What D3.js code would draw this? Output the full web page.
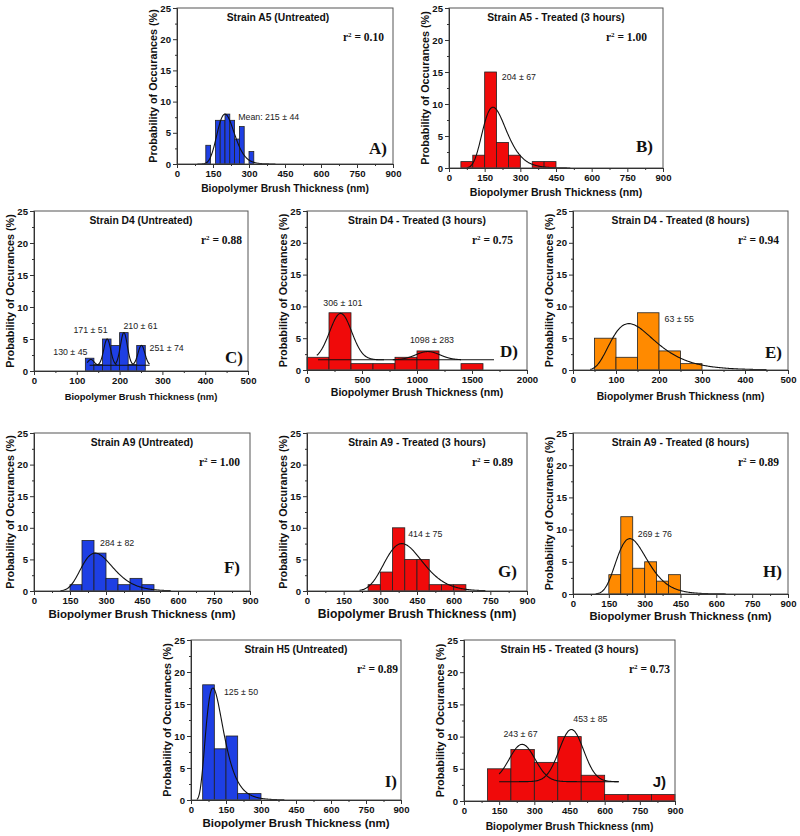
<!DOCTYPE html>
<html>
<head>
<meta charset="utf-8">
<script src="https://cdn.jsdelivr.net/npm/d3@7/dist/d3.min.js"></script>
<style>
  body { margin: 0; background: #fff; }
</style>
</head>
<body>
<div id="chart"></div>
<script>
// histogram counts (%), bin left edges and bin width per panel
const binsA = [120, 140, 160, 180, 200, 220, 240, 260, 280, 300], widthA = 20;
const countsA = [3, 0, 7, 7, 8, 7, 4, 6, 0, 2];
const binsB = [50, 100, 150, 200, 250, 300, 350, 400], widthB = 50;
const countsB = [1, 2, 15, 4, 2, 0, 1, 1];
const binsC = [120, 140, 160, 180, 200, 220, 240], widthC = 20;
const countsC = [2, 1, 5, 4, 6, 1, 4];
const binsD = [0, 200, 400, 600, 800, 1000, 1200, 1400], widthD = 200;
const countsD = [2, 9, 1, 1, 2, 3, 0, 1];
const binsE = [50, 100, 150, 200, 250], widthE = 50;
const countsE = [5, 2, 9, 3, 1];
const binsF = [150, 200, 250, 300, 350, 400, 450], widthF = 50;
const countsF = [1, 8, 6, 2, 1, 2, 1];
const binsG = [250, 300, 350, 400, 450, 500, 550, 600], widthG = 50;
const countsG = [1, 3, 10, 5, 5, 1, 1, 1];
const binsH = [150, 200, 250, 300, 350, 400], widthH = 50;
const countsH = [3, 12, 4, 5, 2, 3];
const binsI = [50, 100, 150, 200, 250], widthI = 50;
const countsI = [18, 8, 10, 1, 1];
const binsJ = [100, 200, 300, 400, 500, 600, 700, 800], widthJ = 100;
const countsJ = [5, 8, 6, 10, 4, 1, 1, 1];

// single log-normal fits: [mode, peak height, log width, from, to]
const fitA = [200, 8, 0.18, 85, 410];
const fitB = [185, 9.5, 0.27, 75, 510];
const fitE = [130, 7.3, 0.395, 40, 450];
const fitF = [255, 6, 0.26, 110, 570];
const fitG = [388, 7.5, 0.2, 215, 730];
const fitH = [238, 8.6, 0.27, 95, 640];
const fitI = [94, 17.5, 0.4, 25, 400];

// multi-peak gaussian fits: baseline, [center, height above baseline, sigma, from, to]
const baseC = 0.9, baseLineC = [130, 270];
const peaksC = [[133, 0.9, 7, 124, 152], [171, 4.1, 8, 150, 193], [210, 5.1, 8, 190, 232], [251, 3.1, 8, 232, 270]];
const baseD = 1.6, baseLineD = [100, 1700];
const peaksD = [[306, 7.3, 100, 90, 700], [1098, 1.3, 110, 780, 1400]];
const baseJ = 3.0, baseLineJ = null;
const peaksJ = [[248, 5.8, 55, 150, 660], [458, 8.1, 52, 150, 660]];

// tick labels
const yTicks = [0, 5, 10, 15, 20, 25];
const xTicks900 = [0, 150, 300, 450, 600, 750, 900];
const xTicks500 = [0, 100, 200, 300, 400, 500];
const xTicks2000 = [0, 500, 1000, 1500, 2000];

const blue = "#1e3fe4", red = "#f00a0a", orange = "#ff8a00";

const panels = [
  { id: "A)", title: "Strain A5 (Untreated)", r2: "0.10", color: blue, bins: binsA, bw: widthA, counts: countsA, fit: fitA,
    xTicks: xTicks900, box: [177, 8, 216, 156], r2In: 9, letIn: [6, 10], xtSize: 10.3, xtDy: 27.5, titleDx: -7,
    notes: [["Mean: 215 \u00b1 44", 255, 7.0]] },
  { id: "B)", title: "Strain A5 - Treated (3 hours)", r2: "1.00", color: red, bins: binsB, bw: widthB, counts: countsB, fit: fitB,
    xTicks: xTicks900, box: [449, 8, 214, 160], r2In: 16, letIn: [10, 16], xtSize: 10.6, xtDy: 28, titleDx: 0,
    notes: [["204 \u00b1 67", 222, 13.7]] },
  { id: "C)", title: "Strain D4 (Untreated)", r2: "0.88", color: blue, bins: binsC, bw: widthC, counts: countsC,
    base: baseC, baseLine: baseLineC, peaks: peaksC,
    xTicks: xTicks500, box: [34, 211, 214, 160], r2In: 6, letIn: [5, 8], xtSize: 9.4, xtDy: 29, titleDx: 0,
    notes: [["130 \u00b1 45", 45, 2.55], ["171 \u00b1 51", 92, 5.9], ["210 \u00b1 61", 209, 6.56], ["251 \u00b1 74", 270, 3.1]] },
  { id: "D)", title: "Strain D4 - Treated (3 hours)", r2: "0.75", color: red, bins: binsD, bw: widthD, counts: countsD,
    base: baseD, baseLine: baseLineD, peaks: peaksD,
    xTicks: xTicks2000, box: [307, 211, 220, 159], r2In: 14, letIn: [9, 13], xtSize: 10.6, xtDy: 25.5, titleDx: 0,
    notes: [["306 \u00b1 101", 148, 10.0], ["1098 \u00b1 283", 936, 4.3]] },
  { id: "E)", title: "Strain D4 - Treated (8 hours)", r2: "0.94", color: orange, bins: binsE, bw: widthE, counts: countsE, fit: fitE,
    xTicks: xTicks500, box: [573, 211, 215, 159], r2In: 9, letIn: [6, 12], xtSize: 10.3, xtDy: 30, titleDx: 0,
    notes: [["63 \u00b1 55", 213, 7.6]] },
  { id: "F)", title: "Strain A9 (Untreated)", r2: "1.00", color: blue, bins: binsF, bw: widthF, counts: countsF, fit: fitF,
    xTicks: xTicks900, box: [34, 433, 216, 158], r2In: 10, letIn: [10, 18], xtSize: 11.5, xtDy: 27, titleDx: 0,
    notes: [["284 \u00b1 82", 275, 7.1]] },
  { id: "G)", title: "Strain A9 - Treated (3 hours)", r2: "0.89", color: red, bins: binsG, bw: widthG, counts: countsG, fit: fitG,
    xTicks: xTicks900, box: [307, 433, 220, 158], r2In: 14, letIn: [10, 14], xtSize: 12.2, xtDy: 27, titleDx: 0,
    notes: [["414 \u00b1 75", 414, 8.6]] },
  { id: "H)", title: "Strain A9 - Treated (8 hours)", r2: "0.89", color: orange, bins: binsH, bw: widthH, counts: countsH, fit: fitH,
    xTicks: xTicks900, box: [573, 433, 215, 161], r2In: 9, letIn: [6, 17], xtSize: 11.2, xtDy: 25.5, titleDx: 0,
    notes: [["269 \u00b1 76", 271, 8.85]] },
  { id: "I)", title: "Strain H5 (Untreated)", r2: "0.89", color: blue, bins: binsI, bw: widthI, counts: countsI, fit: fitI,
    xTicks: xTicks900, box: [191, 640, 210, 160], r2In: 3, letIn: [4, 13], xtSize: 11.5, xtDy: 26.5, titleDx: 0,
    notes: [["125 \u00b1 50", 141, 16.4]] },
  { id: "J)", title: "Strain H5 - Treated (3 hours)", r2: "0.73", color: red, bins: binsJ, bw: widthJ, counts: countsJ,
    base: baseJ, baseLine: baseLineJ, peaks: peaksJ, sansLetter: true,
    xTicks: xTicks900, box: [464, 640, 211, 161], r2In: 5, letIn: [9, 14], xtSize: 10.3, xtDy: 29, titleDx: 0,
    notes: [["243 \u00b1 67", 168, 9.9], ["453 \u00b1 85", 466, 12.2]] }
];

const sans = "'Liberation Sans', Arial, sans-serif";
const serif = "'Liberation Serif', 'Times New Roman', serif";

const svg = d3.select("#chart").append("svg")
  .attr("width", 800).attr("height", 836)
  .style("background", "#fff")
  .style("font-family", sans);

panels.forEach(p => {
  const [x0, y0, w, h] = p.box;
  const xMax = p.xTicks[p.xTicks.length - 1];
  const x = d3.scaleLinear().domain([0, xMax]).range([0, w]);
  const y = d3.scaleLinear().domain([0, 25]).range([h, 0]);
  const g = svg.append("g").attr("transform", `translate(${x0},${y0})`);

  // bars
  g.selectAll(".bar")
    .data(p.bins.map((b, i) => ({ b, c: p.counts[i] })).filter(d => d.c > 0))
    .enter().append("rect")
    .attr("class", "bar")
    .attr("x", d => x(d.b))
    .attr("y", d => y(d.c))
    .attr("width", d => x(d.b + p.bw) - x(d.b))
    .attr("height", d => y(0) - y(d.c))
    .attr("fill", p.color)
    .attr("stroke", "#222")
    .attr("stroke-width", 0.8);

  const line = d3.line().x(d => x(d[0])).y(d => y(d[1])).curve(d3.curveBasis);

  // fitted curves
  if (p.fit) {
    const [m, a, s, from, to] = p.fit;
    const pts = d3.range(0, 201).map(i => {
      const xv = from + (to - from) * i / 200;
      const l = Math.log(xv / m);
      return [xv, a * Math.exp(-l * l / (2 * s * s))];
    });
    g.append("path").attr("d", line(pts)).attr("fill", "none").attr("stroke", "#111").attr("stroke-width", 1.1);
  }
  if (p.peaks) {
    if (p.baseLine) {
      g.append("line")
        .attr("x1", x(p.baseLine[0])).attr("x2", x(p.baseLine[1]))
        .attr("y1", y(p.base)).attr("y2", y(p.base))
        .attr("stroke", "#111").attr("stroke-width", 1.1);
    }
    p.peaks.forEach(([c, a, sg, from, to]) => {
      const pts = d3.range(0, 201).map(i => {
        const xv = from + (to - from) * i / 200;
        return [xv, p.base + a * Math.exp(-(xv - c) * (xv - c) / (2 * sg * sg))];
      });
      g.append("path").attr("d", line(pts)).attr("fill", "none").attr("stroke", "#111").attr("stroke-width", 1.1);
    });
  }

  // frame
  g.append("rect").attr("width", w).attr("height", h)
    .attr("fill", "none").attr("stroke", "#555").attr("stroke-width", 1);

  // axes
  const step = p.xTicks[1] - p.xTicks[0];
  const xMinor = d3.range(step / 2, xMax, step);
  const yMinor = d3.range(2.5, 25, 5);

  const xa = g.append("g").attr("transform", `translate(0,${h})`)
    .call(d3.axisBottom(x).tickValues(p.xTicks).tickFormat(d3.format("d")).tickSize(4).tickPadding(2).tickSizeOuter(0));
  g.append("g").attr("transform", `translate(0,${h})`)
    .call(d3.axisBottom(x).tickValues(xMinor).tickSize(2).tickFormat("").tickSizeOuter(0));
  const ya = g.append("g")
    .call(d3.axisLeft(y).tickValues(yTicks).tickSize(4).tickPadding(2).tickSizeOuter(0));
  g.append("g")
    .call(d3.axisLeft(y).tickValues(yMinor).tickSize(2).tickFormat("").tickSizeOuter(0));

  g.selectAll(".domain").attr("stroke", "#333");
  g.selectAll(".tick line").attr("stroke", "#333");
  [xa, ya].forEach(ax => ax.selectAll("text")
    .style("font-family", sans).style("font-size", "9.6px").style("font-weight", "bold").attr("fill", "#111"));

  // axis titles
  g.append("text")
    .attr("x", w / 2).attr("y", h + p.xtDy)
    .attr("text-anchor", "middle")
    .style("font-size", p.xtSize + "px").style("font-weight", "bold").attr("fill", "#111")
    .text("Biopolymer Brush Thickness (nm)");
  g.append("text")
    .attr("transform", `translate(-20,${h / 2}) rotate(-90)`)
    .attr("text-anchor", "middle")
    .style("font-size", "10.8px").style("font-weight", "bold").attr("fill", "#111")
    .text("Probability of Occurances (%)");

  // panel title
  g.append("text")
    .attr("x", w / 2 + p.titleDx).attr("y", 13)
    .attr("text-anchor", "middle")
    .style("font-size", "10.3px").style("font-weight", "bold").attr("fill", "#111")
    .text(p.title);

  // r squared
  const r2 = g.append("text")
    .attr("x", w - p.r2In).attr("y", 33)
    .attr("text-anchor", "end")
    .style("font-family", serif)
    .style("font-size", "11.5px").style("font-weight", "bold").attr("fill", "#111");
  r2.append("tspan").text("r");
  r2.append("tspan").attr("dy", -4).style("font-size", "7px").text("2");
  r2.append("tspan").attr("dy", 4).text(" = " + p.r2);

  // panel letter
  g.append("text")
    .attr("x", w - p.letIn[0]).attr("y", h - p.letIn[1])
    .attr("text-anchor", "end")
    .style("font-family", p.sansLetter ? sans : serif)
    .style("font-size", p.sansLetter ? "15px" : "17px").style("font-weight", "bold").attr("fill", "#111")
    .text(p.id);

  // mean annotations
  p.notes.forEach(([t, nx, ny]) => {
    g.append("text")
      .attr("x", x(nx)).attr("y", y(ny))
      .style("font-size", "8.8px").attr("fill", "#222")
      .text(t);
  });
});
</script>
</body>
</html>
